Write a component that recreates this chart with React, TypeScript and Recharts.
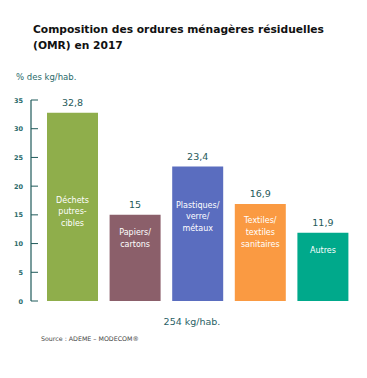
import { BarChart, Bar, XAxis, YAxis, Cell, LabelList } from "recharts";

const categories = ["Déchets putrescibles", "Papiers/cartons", "Plastiques/verre/métaux", "Textiles/textiles sanitaires", "Autres"];
const innerLabels = [
  ["Déchets", "putres-", "cibles"],
  ["Papiers/", "cartons"],
  ["Plastiques/", "verre/", "métaux"],
  ["Textiles/", "textiles", "sanitaires"],
  ["Autres"],
];
const values = [32.8, 15, 23.4, 16.9, 11.9];
const yTicks = [0, 5, 10, 15, 20, 25, 30, 35];

const colors = ["#8fae4b", "#8b5f6a", "#5a6dbf", "#fa9a42", "#00a98b"];
// distance from the top of each bar to the first inner label line
const innerLabelTop = [87, 17, 38, 16, 17];

const AXIS = "#1f5a5a";
const TEXT = "#2a6a6a";
const FONT = "'DejaVu Sans', Verdana, sans-serif";
const AXIS_X = 31;

const data = categories.map((c, i) => ({ name: c, value: values[i], lines: innerLabels[i] }));

const YTick = ({ y, payload }: any) => (
  <g>
    <line x1={AXIS_X} x2={AXIS_X + 7} y1={y} y2={y} stroke={AXIS} strokeWidth={1} />
    <text x={23} y={y} dy={2.5} textAnchor="end" fontSize={6.5} fontWeight="bold" fill={TEXT} fontFamily={FONT}>
      {payload.value}
    </text>
  </g>
);

const InnerLabel = (props: any) => {
  const { x, y, width, index } = props;
  const lines: string[] = innerLabels[index];
  const cx = x + width / 2;
  const y0 = y + innerLabelTop[index];
  return (
    <text x={cx} y={y0} textAnchor="middle" fontSize={8} fill="#ffffff" fontFamily={FONT}>
      {lines.map((l, i) => (
        <tspan key={i} x={cx} y={y0 + i * 11.8} dy={3}>
          {l}
        </tspan>
      ))}
    </text>
  );
};

export default function App() {
  return (
    <div style={{ position: "absolute", left: 0, top: 0, width: 367, height: 378, background: "#fff", fontFamily: FONT }}>
      <div style={{ position: "absolute", left: 33, top: 22, fontSize: 10.7, fontWeight: "bold", color: "#111", lineHeight: "16px" }}>
        Composition des ordures ménagères résiduelles
        <br />
        (OMR) en 2017
      </div>
      <div style={{ position: "absolute", left: 16, top: 72, fontSize: 8.5, color: TEXT }}>% des kg/hab.</div>
      <BarChart
        width={367}
        height={378}
        data={data}
        margin={{ top: 100, right: 5, bottom: 77, left: 0 }}
        style={{ position: "absolute", left: 0, top: 0 }}
      >
        <YAxis
          type="number"
          domain={[0, 35]}
          ticks={yTicks}
          width={AXIS_X}
          axisLine={{ stroke: AXIS, strokeWidth: 1.2 }}
          tickLine={false}
          tick={<YTick />}
          interval={0}
        />
        <XAxis
          dataKey="name"
          tick={false}
          tickLine={false}
          height={0}
          padding={{ left: 10, right: 8 }}
          axisLine={{ stroke: AXIS, strokeWidth: 1.2 }}
        />
        <Bar dataKey="value" barSize={51} isAnimationActive={false}>
          {data.map((d, i) => (
            <Cell key={d.name} fill={colors[i]} />
          ))}
          <LabelList
            dataKey="value"
            position="top"
            offset={7}
            formatter={(v: any) => String(v).replace(".", ",")}
            style={{ fill: AXIS, fontSize: 9.5, fontFamily: FONT }}
          />
          <LabelList dataKey="value" content={<InnerLabel />} />
        </Bar>
      </BarChart>
      <div style={{ position: "absolute", left: 0, width: 384, top: 316, textAlign: "center", fontSize: 9.5, color: "#2a5f66" }}>
        254 kg/hab.
      </div>
      <div style={{ position: "absolute", left: 41, top: 335, fontSize: 6.3, color: "#444" }}>Source : ADEME – MODECOM®</div>
    </div>
  );
}
